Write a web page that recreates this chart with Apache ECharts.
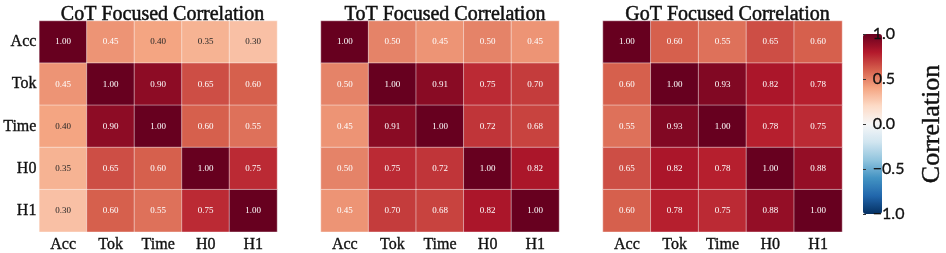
<!DOCTYPE html>
<html>
<head>
<meta charset="utf-8">
<script src="https://cdn.jsdelivr.net/npm/echarts@6/dist/echarts.min.js"></script>
<style>html,body{margin:0;padding:0;background:#fff}#c{width:946px;height:253px}</style>
</head>
<body>
<div id="c"></div>
<script>
var labels = ['Acc', 'Tok', 'Time', 'H0', 'H1'];
var titles = ['CoT Focused Correlation', 'ToT Focused Correlation', 'GoT Focused Correlation'];
var cotMatrix = [
  [1.00, 0.45, 0.40, 0.35, 0.30],
  [0.45, 1.00, 0.90, 0.65, 0.60],
  [0.40, 0.90, 1.00, 0.60, 0.55],
  [0.35, 0.65, 0.60, 1.00, 0.75],
  [0.30, 0.60, 0.55, 0.75, 1.00]
];
var totMatrix = [
  [1.00, 0.50, 0.45, 0.50, 0.45],
  [0.50, 1.00, 0.91, 0.75, 0.70],
  [0.45, 0.91, 1.00, 0.72, 0.68],
  [0.50, 0.75, 0.72, 1.00, 0.82],
  [0.45, 0.70, 0.68, 0.82, 1.00]
];
var gotMatrix = [
  [1.00, 0.60, 0.55, 0.65, 0.60],
  [0.60, 1.00, 0.93, 0.82, 0.78],
  [0.55, 0.93, 1.00, 0.78, 0.75],
  [0.65, 0.82, 0.78, 1.00, 0.88],
  [0.60, 0.78, 0.75, 0.88, 1.00]
];
var colorbarTicks = [-1, -0.5, 0, 0.5, 1];
var matrices = [cotMatrix, totMatrix, gotMatrix];

var rdbuR = ['#053061','#2166ac','#4393c3','#92c5de','#d1e5f0','#f7f7f7','#fddbc7','#f4a582','#d6604d','#b2182b','#67001f'];
var serif = 'Liberation Serif';
var gridLefts = [38, 321, 603];
var gridWidths = [239, 238, 239];
var gridTop = 21, gridH = 212;
var ink = '#111';

var grids = [], xAxes = [], yAxes = [], series = [], titleOpts = [];
matrices.forEach(function (m, k) {
  grids.push({left: gridLefts[k], width: gridWidths[k], top: gridTop, height: gridH});
  xAxes.push({type: 'category', gridIndex: k, data: labels, position: 'bottom',
    axisLine: {show: false}, axisTick: {show: false}, splitLine: {show: false},
    axisLabel: {fontFamily: serif, fontSize: 16, color: ink, margin: 5,
      textBorderColor: ink, textBorderWidth: 0.35}});
  yAxes.push({type: 'category', gridIndex: k, data: labels, inverse: true,
    axisLine: {show: false}, axisTick: {show: false}, splitLine: {show: false},
    axisLabel: {show: k === 0, fontFamily: serif, fontSize: 16, color: ink, margin: 3,
      textBorderColor: ink, textBorderWidth: 0.35}});
  var data = [];
  for (var r = 0; r < m.length; r++) {
    for (var c = 0; c < m[r].length; c++) {
      var v = m[r][c];
      data.push({value: [c, r, v], label: {color: v > 0.42 ? '#ffffff' : '#262626'}});
    }
  }
  series.push({type: 'heatmap', xAxisIndex: k, yAxisIndex: k, data: data,
    itemStyle: {borderColor: 'rgba(255,255,255,0.45)', borderWidth: 1},
    label: {show: true, fontFamily: serif, fontSize: 9,
      formatter: function (p) { return p.value[2].toFixed(2); }},
    emphasis: {disabled: true}});
  titleOpts.push({text: titles[k], left: gridLefts[k] + gridWidths[k] / 2, top: 0, textAlign: 'center',
    textStyle: {fontFamily: serif, fontSize: 20, fontWeight: 'normal', color: ink,
      textBorderColor: ink, textBorderWidth: 0.5}});
});

// colorbar axis
grids.push({left: 863, width: 19, top: 34, height: 180, z: 10});
xAxes.push({type: 'value', gridIndex: 3, show: false, min: 0, max: 1});
yAxes.push({type: 'value', gridIndex: 3, position: 'right', z: 10,
  min: colorbarTicks[0], max: colorbarTicks[colorbarTicks.length - 1], interval: 0.5,
  axisLine: {show: false}, splitLine: {show: false},
  axisTick: {show: true, length: 3, lineStyle: {color: '#333'}},
  axisLabel: {fontFamily: 'Lato', fontSize: 16, color: ink, margin: 2, align: 'left',
    textBorderColor: ink, textBorderWidth: 0.3,
    formatter: function (v) { return v.toFixed(1).replace('-', '\u2212'); }},
  name: 'Correlation', nameLocation: 'middle', nameRotate: 90, nameGap: 48,
  nameTextStyle: {fontFamily: serif, fontSize: 26, color: ink, textBorderColor: ink, textBorderWidth: 0.4}});

var chart = echarts.init(document.getElementById('c'), null, {renderer: 'canvas'});
chart.setOption({
  animation: false,
  backgroundColor: '#fff',
  title: titleOpts,
  grid: grids,
  xAxis: xAxes,
  yAxis: yAxes,
  visualMap: {
    type: 'continuous', min: -1, max: 1, seriesIndex: [0, 1, 2],
    calculable: false, hoverLink: false, realtime: false, z: 1,
    orient: 'vertical', left: 863, top: 34, itemWidth: 19, itemHeight: 180,
    padding: 0, text: null, showLabel: false,
    inRange: {color: rdbuR}
  },
  series: series
});
</script>
</body>
</html>
